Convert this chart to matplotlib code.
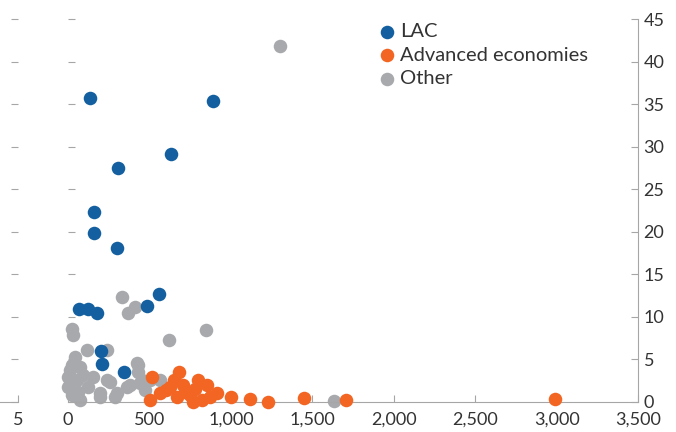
import matplotlib
matplotlib.use("Agg")
import matplotlib.pyplot as plt
from matplotlib.ticker import FuncFormatter

plt.rcParams['font.family'] = ['Lato', 'DejaVu Sans']

# LAC economies
lac_x = [135, 890, 632, 307, 160, 160, 301, 559, 485, 68, 123, 178, 203, 209, 344]
lac_y = [35.7, 35.4, 29.1, 27.5, 22.3, 19.8, 18.1, 12.7, 11.3, 10.9, 10.9, 10.4, 6.0, 4.5, 3.5]

# Advanced economies
adv_x = [516, 682, 800, 853, 915, 1000, 1118, 1228, 1449, 1707, 2990,
         503, 565, 626, 669, 706, 749, 768, 823, 872, 600, 720, 650, 780]
adv_y = [2.9, 3.5, 2.6, 2.0, 1.1, 0.6, 0.4, 0.0, 0.5, 0.2, 0.4,
         0.2, 1.0, 1.8, 0.6, 2.0, 0.8, 0.0, 0.2, 0.6, 1.4, 1.2, 2.6, 1.5]

# Other economies
oth_x = [1300, 330, 411, 370, 620, 847, 25, 31, 117, 240, 430, 430, 25, 0, 74, 154,
         123, 0, 25, 197, 301, 240, 381, 454, 503, 424, 55, 74, 196, 289, 258,
         362, 442, 473, 565, 1633, 10, 40, 90, 60]
oth_y = [41.8, 12.3, 11.2, 10.5, 7.3, 8.5, 8.6, 7.9, 6.1, 6.1, 4.3, 3.5, 4.3, 2.9, 4.1, 2.9,
         1.8, 1.8, 0.8, 1.0, 1.0, 2.6, 2.0, 2.6, 2.6, 4.6, 2.6, 0.2, 0.6, 0.6, 2.3,
         1.8, 2.2, 1.4, 2.6, 0.1, 3.8, 5.3, 3.2, 1.2]

x_ticks = [0, 500, 1000, 1500, 2000, 2500, 3000, 3500]
y_ticks = [0, 5, 10, 15, 20, 25, 30, 35, 40, 45]

C_LAC = '#135f9f'
C_ADV = '#f26522'
C_OTH = '#a7a9ac'
C_AXIS = '#a6a6a6'
C_TEXT = '#333333'

W, H = 676, 432
fig = plt.figure(figsize=(W / 100, H / 100), dpi=100)

# neighbouring panel, only its right edge falls inside the figure
axl = fig.add_axes([-0.8, 30 / H, 0.8 + 18 / W, 383 / H])
axl.set_xlim(-20, 5)
axl.set_ylim(0, 45)
for s in ('top', 'left', 'right'):
    axl.spines[s].set_visible(False)
axl.spines['bottom'].set_color(C_AXIS)
axl.set_xticks([5])
axl.set_xticklabels(['5'])
axl.yaxis.tick_right()
axl.set_yticks(y_ticks)
axl.tick_params(axis='y', direction='in', length=5, color=C_AXIS, labelright=False)
axl.tick_params(axis='x', direction='in', length=5, color=C_AXIS, labelsize=13,
                labelcolor=C_TEXT, pad=7)
axl.set_facecolor('none')

ax = fig.add_axes([68 / W, 30 / H, 570 / W, 383 / H])
ax.set_xlim(0, 3500)
ax.set_ylim(0, 45)
ax.set_facecolor('none')

ms = 95
ax.scatter(oth_x, oth_y, s=ms, color=C_OTH, linewidths=0, label='Other', zorder=2, clip_on=False)
ax.scatter(adv_x, adv_y, s=ms, color=C_ADV, linewidths=0, label='Advanced economies', zorder=3, clip_on=False)
ax.scatter(lac_x, lac_y, s=ms, color=C_LAC, linewidths=0, label='LAC', zorder=4, clip_on=False)

ax.spines['top'].set_visible(False)
ax.spines['left'].set_visible(False)
ax.spines['right'].set_color(C_AXIS)
ax.spines['bottom'].set_color(C_AXIS)

ax.set_xticks(x_ticks)
ax.xaxis.set_major_formatter(FuncFormatter(lambda v, p: f'{int(v):,}'))
ax.set_yticks(y_ticks)
ax.tick_params(axis='x', direction='in', length=5, color=C_AXIS, labelsize=13,
               labelcolor=C_TEXT, pad=7)
ax.tick_params(axis='y', which='both', direction='in', length=5, color=C_AXIS,
               left=True, right=True, labelleft=False, labelright=True,
               labelsize=13, labelcolor=C_TEXT, pad=4)

handles, labels = ax.get_legend_handles_labels()
order = [2, 1, 0]
leg = ax.legend([handles[i] for i in order], [labels[i] for i in order],
                loc='upper left', bbox_to_anchor=(367 / W, 1 - 15 / H),
                bbox_transform=fig.transFigure, frameon=False, fontsize=14.5,
                handletextpad=0.05, labelspacing=0.32, borderaxespad=0,
                handlelength=1.2, scatterpoints=1)
for t in leg.get_texts():
    t.set_color(C_TEXT)

fig.savefig('out.png', dpi=100)
